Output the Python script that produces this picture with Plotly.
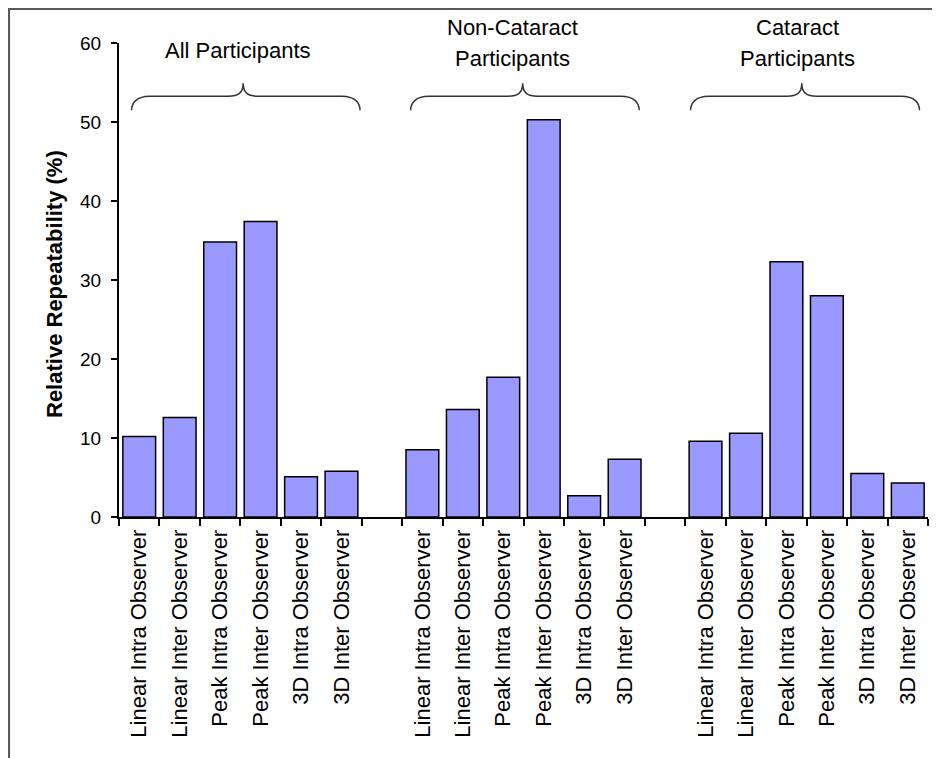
import plotly.graph_objects as go

# ---- data ----
measures = ["Linear Intra Observer", "Linear Inter Observer", "Peak Intra Observer",
            "Peak Inter Observer", "3D Intra Observer", "3D Inter Observer"]
group_names = [["All Participants"], ["Non-Cataract", "Participants"], ["Cataract", "Participants"]]
all_participants = [10.2, 12.6, 34.8, 37.4, 5.1, 5.8]
non_cataract = [8.5, 13.6, 17.7, 50.3, 2.7, 7.3]
cataract = [9.6, 10.6, 32.3, 28.0, 5.5, 4.3]
y_ticks = [0, 10, 20, 30, 40, 50, 60]
y_title = "Relative Repeatability (%)"

groups = [all_participants, non_cataract, cataract]
slot = len(measures) + 1  # one empty slot between groups

x_pos, y_val, tickvals, ticktext = [], [], [], []
for g, vals in enumerate(groups):
    for i, v in enumerate(vals):
        x_pos.append(g * slot + i)
        y_val.append(v)
        tickvals.append(g * slot + i)
        ticktext.append(measures[i])

n_slots = len(groups) * slot - 1  # 20 category slots (indices 0..19)

FONT = "Liberation Sans, Arial, sans-serif"

# layout geometry (figure pixels)
W, H = 940, 758
ML, MR, MT, MB = 111, 20, 35, 249
PW, PH = W - ML - MR, H - MT - MB


def px_x(fx):
    return (fx - ML) / PW


def px_y(fy):
    return (H - MB - fy) / PH


fig = go.Figure()
fig.add_trace(go.Bar(
    x=x_pos, y=y_val, width=0.81,
    marker=dict(color="#9999FF", line=dict(color="black", width=1.5)),
    showlegend=False, hoverinfo="x+y",
))

# brace decoration geometry (data units)
brace_x = [(-0.19, 5.46, 2.57), (6.71, 12.36, 9.48), (13.63, 19.29, 16.38)]
y_end, y_h, y_tip = 51.5, 53.26, 54.9
shapes = []
for x0, x1, xt in brace_x:
    p = (f"M {x0},{y_end} C {x0},{y_h-0.9} {x0+0.12},{y_h} {x0+0.45},{y_h} "
         f"L {xt-0.37},{y_h} C {xt-0.12},{y_h} {xt},{y_h+0.4} {xt},{y_tip} "
         f"C {xt},{y_h+0.4} {xt+0.12},{y_h} {xt+0.37},{y_h} "
         f"L {x1-0.45},{y_h} C {x1-0.12},{y_h} {x1},{y_h-0.9} {x1},{y_end}")
    shapes.append(dict(type="path", path=p, xref="x", yref="y",
                       line=dict(color="#333333", width=1.5)))

# outer frame (top and left edges)
fx0, fy0 = 1, 1
shapes.append(dict(type="path", xref="paper", yref="paper",
                   path=f"M {px_x(fx0)},{px_y(H + 10)} L {px_x(fx0)},{px_y(fy0)} L {px_x(W - 1)},{px_y(fy0)}",
                   line=dict(color="#5a5a5a", width=2.2)))

annotations = []
ann_x = [2.454, 9.216, 16.286]
tf = dict(size=22, color="black", family=FONT)
for g, lines in enumerate(group_names):
    if len(lines) == 1:
        annotations.append(dict(x=ann_x[g], y=px_y(42), xref="x", yref="paper", text=lines[0],
                                xanchor="center", yanchor="middle", showarrow=False, font=tf))
    else:
        annotations.append(dict(x=ann_x[g], y=px_y(19.5), xref="x", yref="paper", text=lines[0],
                                xanchor="center", yanchor="middle", showarrow=False, font=tf))
        annotations.append(dict(x=ann_x[g], y=px_y(50.5), xref="x", yref="paper", text=lines[1],
                                xanchor="center", yanchor="middle", showarrow=False, font=tf))

annotations.append(dict(x=px_x(46), y=px_y(276), xref="paper", yref="paper", text="<b>" + y_title + "</b>",
                        textangle=-90, showarrow=False, xanchor="center", yanchor="middle",
                        font=tf))

fig.update_layout(
    template="none",
    autosize=False,
    width=W, height=H,
    margin=dict(l=ML, r=MR, t=MT, b=MB, pad=0, autoexpand=False),
    paper_bgcolor="white", plot_bgcolor="white",
    font=dict(family=FONT, color="black"),
    bargap=0.19, showlegend=False,
    shapes=shapes, annotations=annotations,
    xaxis=dict(
        range=[-0.5, n_slots - 0.5], tickmode="array", tickvals=tickvals, ticktext=ticktext,
        tickangle=-90, ticks="", showgrid=False, zeroline=False, automargin=False,
        showline=True, linecolor="black", linewidth=2,
        tickfont=dict(size=22, color="black", family=FONT),
        ticklabelstandoff=2,
        minor=dict(ticks="outside", ticklen=7, tickwidth=2, tickcolor="black",
                   tick0=-0.5, dtick=1, showgrid=False),
    ),
    yaxis=dict(
        range=[0, 60], tickmode="array", tickvals=y_ticks, automargin=False,
        ticks="outside", ticklen=6, tickwidth=2, tickcolor="black",
        showgrid=False, zeroline=False, showline=True, linecolor="black", linewidth=2,
        tickfont=dict(size=19, color="black", family=FONT),
        ticklabelstandoff=6,
    ),
)

fig.write_html("out.html", config={"responsive": False, "displayModeBar": False})
